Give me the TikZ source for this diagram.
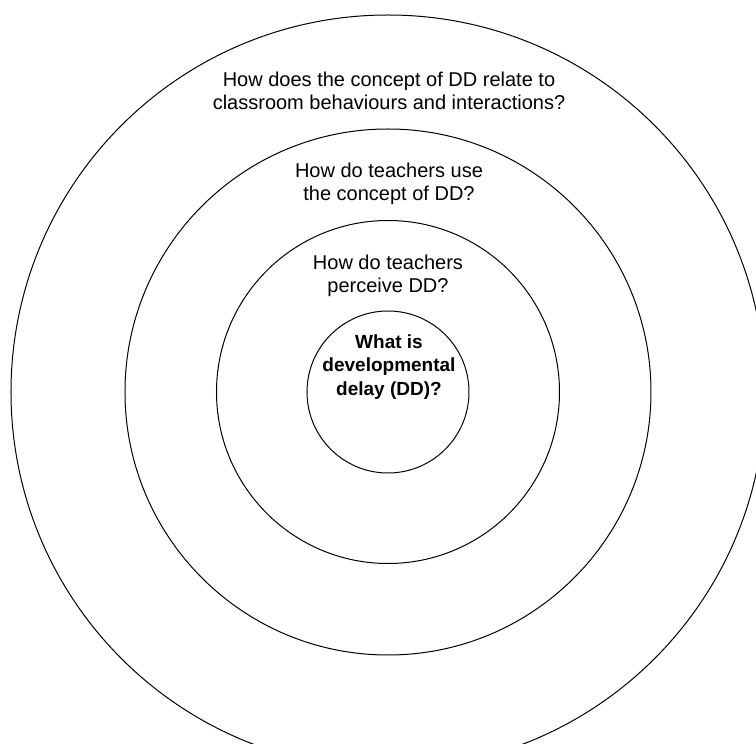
\documentclass[tikz,border=0pt]{standalone}
\usepackage{fontspec}
\setmainfont{Liberation Sans}
\usepackage{tikz}
\usetikzlibrary{positioning}

\begin{document}
\begin{tikzpicture}[
    x=1pt, y=1pt,
    ring/.style={circle, draw, line width=1pt, inner sep=0pt, outer sep=0pt},
    question/.style={align=center, font=\fontsize{20}{23.5}\selectfont},
    core/.style={align=center, font=\bfseries\fontsize{19}{23.5}\selectfont}
]
\useasboundingbox (-388,-352) rectangle (368,392);

\node[ring, minimum size=754pt] (outer) at (0,0) {};
\node[ring, minimum size=526pt] (use) at (0,0) {};
\node[ring, minimum size=343pt] (perceive) at (0,0) {};
\node[ring, minimum size=162pt] (inner) at (0,0) {};

\node[question] (qrelate) at (1,301) {How does the concept of DD relate to\\classroom behaviours and interactions?};
\node[question] (quse) at (1,208) {How do teachers use\\the concept of DD?};
\node[question] (qperceive) at (0,116) {How do teachers\\perceive DD?};
\node[core] (qwhat) at (1,25) {What is\\developmental\\delay (DD)?};
\end{tikzpicture}
\end{document}
